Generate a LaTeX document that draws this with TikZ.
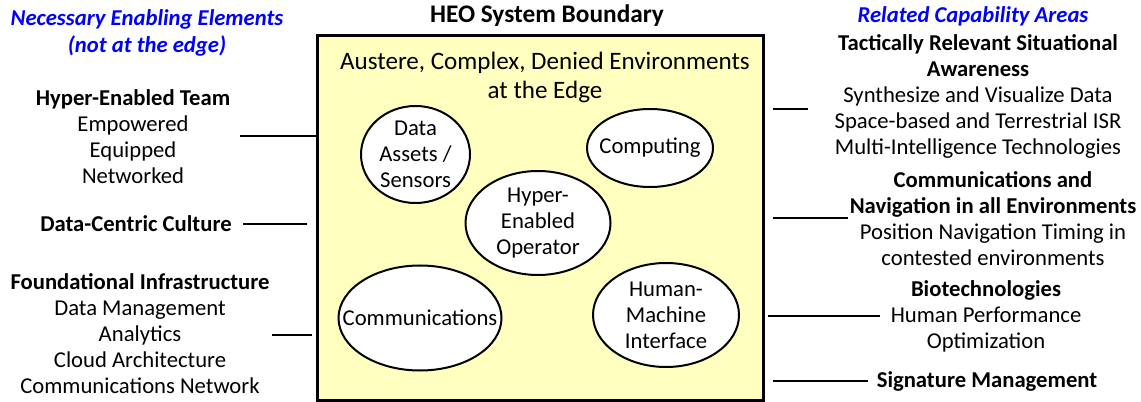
\documentclass[tikz,border=0pt]{standalone}
\usepackage{fontspec}
\setmainfont{Carlito}
\usetikzlibrary{shapes.geometric,positioning}
\definecolor{edgeyellow}{RGB}{255,255,192}
\definecolor{areablue}{RGB}{0,0,255}
\tikzset{
  txt/.style={align=center,inner sep=0pt,font=\fontsize{17}{19.5}\selectfont},
  head/.style={txt,font=\fontsize{17}{19.5}\selectfont\bfseries},
  side/.style={txt,text=areablue,font=\fontsize{17}{20.25}\selectfont\bfseries\itshape},
  frame/.style={draw,line width=2.25pt,fill=edgeyellow,inner sep=0pt},
  bubble/.style={draw,ellipse,line width=1.5pt,fill=white,inner sep=0pt},
  link/.style={line width=1.1pt}
}
\begin{document}
\begin{tikzpicture}[x=0.75pt,y=-0.75pt]
\useasboundingbox (0,0) rectangle (1141,402);
% system boundary
\node[head,font=\fontsize{19}{21}\selectfont\bfseries](title)at(547,16){HEO System Boundary};
\node[frame,minimum width=334.5pt,minimum height=273pt](heo)at(540,218){};
\node[txt,font=\fontsize{18.8}{21.75}\selectfont](env)at(545,77.5){Austere, Complex, Denied Environments\\at the Edge};
% capabilities inside the boundary
\node[bubble,minimum width=81.75pt,minimum height=72.75pt,label={[txt]center:Data\\Assets /\\Sensors}](data)at(415.5,154.5){};
\node[bubble,minimum width=94.5pt,minimum height=58.5pt,label={[txt]center:Computing}](comp)at(650,148){};
\node[bubble,minimum width=108.75pt,minimum height=78pt,label={[txt]center:Hyper-\\Enabled\\Operator}](oper)at(538,223){};
\node[bubble,minimum width=122.25pt,minimum height=78.75pt,label={[txt]center:Communications}](comm)at(420,318){};
\node[bubble,minimum width=109.5pt,minimum height=78pt,label={[txt]center:Human-\\Machine\\Interface}](hmi)at(666,315){};
% enabling elements (left)
\node[side](need)at(147,32.5){Necessary Enabling Elements\\(not at the edge)};
\node[txt](team)at(133,137){\textbf{Hyper-Enabled Team}\\Empowered\\Equipped\\Networked};
\node[head](cult)at(136,224){Data-Centric Culture};
\node[txt](infra)at(140,334){\textbf{Foundational Infrastructure}\\Data Management\\Analytics\\Cloud Architecture\\Communications Network};
\coordinate(teamend)at(240,136);
\coordinate(cultA)at(243,224);\coordinate(cultB)at(307,224);
\coordinate(infraA)at(272,335);\coordinate(infraB)at(312,335);
\draw[link](teamend)--(teamend-|heo.west);
\draw[link](cultA)--(cultB);
\draw[link](infraA)--(infraB);
% capability areas (right)
\node[side](areas)at(973,16){Related Capability Areas};
\node[txt](tsa)at(978,96){\textbf{Tactically Relevant Situational}\\\textbf{Awareness}\\Synthesize and Visualize Data\\Space-based and Terrestrial ISR\\Multi-Intelligence Technologies};
\node[txt](cna)at(993,219){\textbf{Communications and}\\\textbf{Navigation in all Environments}\\Position Navigation Timing in\\contested environments};
\node[txt](bio)at(986,316){\textbf{Biotechnologies}\\Human Performance\\Optimization};
\node[head](sig)at(987,381){Signature Management};
\coordinate(tsaA)at(773,109);\coordinate(tsaB)at(808,109);
\coordinate(cnaA)at(773,218);\coordinate(cnaB)at(848,218);
\coordinate(bioA)at(768,316);\coordinate(bioB)at(880,316);
\coordinate(sigA)at(773,381);\coordinate(sigB)at(868,381);
\draw[link](tsaA)--(tsaB);
\draw[link](cnaA)--(cnaB);
\draw[link](bioA)--(bioB);
\draw[link](sigA)--(sigB);
\end{tikzpicture}
\end{document}
